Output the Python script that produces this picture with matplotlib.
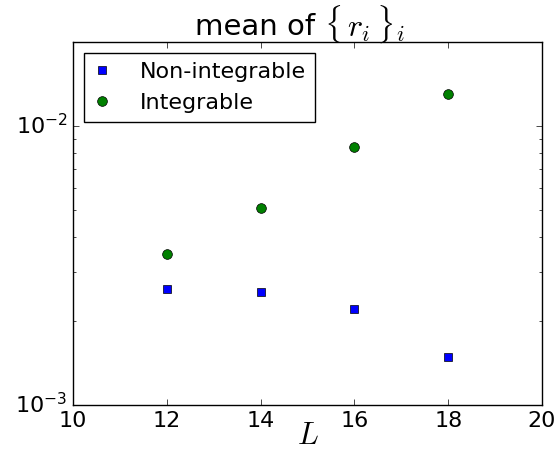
import matplotlib
matplotlib.use("Agg")
import matplotlib.pyplot as plt

plt.style.use("classic")
plt.rcParams["mathtext.fontset"] = "cm"
plt.rcParams["font.family"] = "DejaVu Sans"

L_values = [12, 14, 16, 18]
non_integrable = [2.61e-3, 2.54e-3, 2.20e-3, 1.49e-3]
integrable = [3.48e-3, 5.08e-3, 8.44e-3, 1.30e-2]

fig = plt.figure(figsize=(5.57, 4.53), dpi=100, facecolor="white")
ax = fig.add_axes([73 / 557, 48 / 453, 469 / 557, 363 / 453])

ax.plot(L_values, non_integrable, linestyle="none", marker="s", color="b",
        markeredgecolor="k", markersize=6, label="Non-integrable")
ax.plot(L_values, integrable, linestyle="none", marker="o", color="g",
        markeredgecolor="k", markersize=7, label="Integrable")

ax.set_yscale("log")
ax.set_xlim(10, 20)
ax.set_ylim(1e-3, 2e-2)
ax.set_xticks([10, 12, 14, 16, 18, 20])
ax.tick_params(labelsize=16)
ax.set_xlabel("$L$", fontsize=22, labelpad=-7)

# title: plain words followed by a larger math part, sharing one baseline
ax.text(0.535, 1.018, "mean of ", transform=ax.transAxes, fontsize=21,
        ha="right", va="baseline")
ax.text(0.535, 1.018, r"$\{\,r_i\,\}_i$", transform=ax.transAxes, fontsize=23,
        ha="left", va="baseline")

ax.legend(loc="upper left", numpoints=1, fontsize=16, fancybox=False,
          handlelength=0.8, handletextpad=1.3)

fig.savefig("out.png", dpi=100, facecolor="white")
